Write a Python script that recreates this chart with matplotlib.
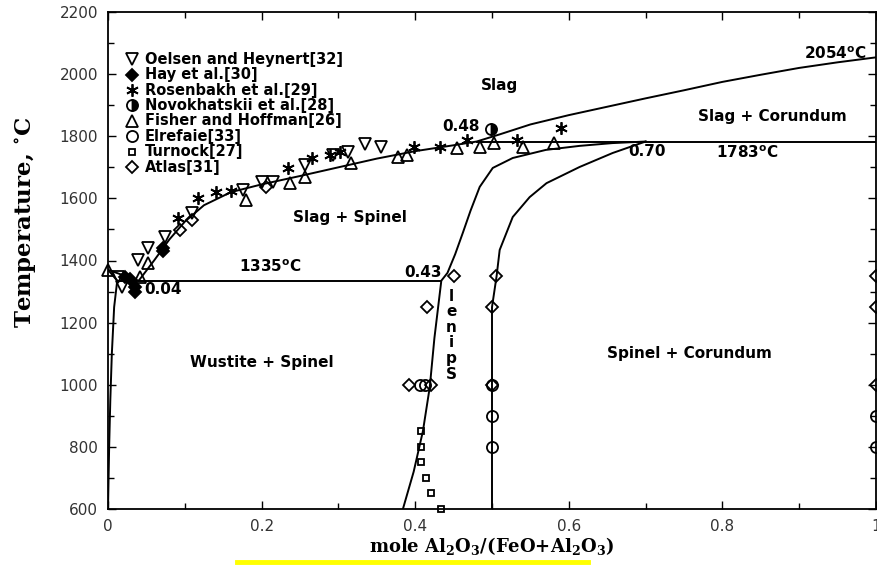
import matplotlib
matplotlib.use("Agg")
import matplotlib.pyplot as plt
from matplotlib.lines import Line2D
from matplotlib.ticker import MultipleLocator

plt.rcParams["mathtext.fontset"] = "custom"
plt.rcParams["mathtext.rm"] = "DejaVu Serif:bold"
plt.rcParams["mathtext.bf"] = "DejaVu Serif:bold"

# ---- phase boundaries (mole fraction Al2O3, temperature in C) ----
liquidus_x = [0.0, 0.04, 0.06, 0.08, 0.10, 0.125, 0.16, 0.20, 0.25, 0.30, 0.35, 0.40, 0.45, 0.48,
              0.51, 0.55, 0.60, 0.65, 0.70, 0.75, 0.80, 0.85, 0.90, 0.95, 1.0]
liquidus_T = [1370, 1335, 1400, 1468, 1525, 1578, 1620, 1645, 1672, 1700, 1728, 1752, 1771, 1783,
              1806, 1838, 1868, 1895, 1922, 1948, 1975, 1998, 2020, 2038, 2054]
wustite_solidus_x = [0.0, 0.012]
wustite_solidus_T = [1370, 1335]
wustite_solvus_x = [0.012, 0.008, 0.005, 0.003, 0.0015, 0.0]
wustite_solvus_T = [1335, 1250, 1100, 950, 800, 600]
eutectic_x = [0.012, 0.434]
eutectic_T = [1335, 1335]
peritectic_x = [0.48, 1.0]
peritectic_T = [1783, 1783]
spinel_fe_x = [0.384, 0.398, 0.41, 0.419, 0.425, 0.434, 0.442, 0.452, 0.462, 0.472, 0.484, 0.501,
               0.527, 0.57, 0.614, 0.657, 0.70]
spinel_fe_T = [600, 720, 850, 993, 1150, 1335, 1360, 1420, 1489, 1560, 1637, 1698,
               1730, 1756, 1769, 1778, 1783]
spinel_al_x = [0.5, 0.5, 0.503, 0.506, 0.51, 0.527, 0.549, 0.571, 0.614, 0.657, 0.679, 0.70]
spinel_al_T = [600, 1250, 1300, 1350, 1434, 1540, 1604, 1649, 1701, 1746, 1765, 1783]

# ---- experimental data ----
oelsen_x = [0.013, 0.018, 0.039, 0.052, 0.074, 0.11, 0.176, 0.2, 0.215, 0.256, 0.293, 0.312, 0.334, 0.356]
oelsen_T = [1347, 1315, 1402, 1440, 1476, 1553, 1627, 1653, 1653, 1707, 1740, 1750, 1775, 1766]
hay_x = [0.022, 0.029, 0.035, 0.035, 0.072, 0.072]
hay_T = [1347, 1340, 1315, 1298, 1440, 1430]
rosenbakh_x = [0.091, 0.117, 0.141, 0.16, 0.234, 0.265, 0.289, 0.302, 0.399, 0.432, 0.467, 0.532, 0.59]
rosenbakh_T = [1537, 1601, 1620, 1625, 1698, 1730, 1740, 1750, 1766, 1766, 1788, 1788, 1827]
novokhatskii_x = [0.499]
novokhatskii_T = [1823]
fisher_x = [0.0, 0.042, 0.052, 0.18, 0.237, 0.256, 0.317, 0.377, 0.389, 0.455, 0.484, 0.502, 0.541, 0.581]
fisher_T = [1369, 1347, 1392, 1595, 1649, 1669, 1713, 1733, 1740, 1762, 1766, 1778, 1766, 1778]
elrefaie_x = [0.406, 0.413, 0.5, 0.5, 0.5, 1.0, 1.0]
elrefaie_T = [1000, 1000, 1000, 900, 800, 900, 800]
turnock_x = [0.407, 0.407, 0.407, 0.414, 0.42, 0.433]
turnock_T = [850, 800, 750, 700, 650, 600]
atlas_x = [0.094, 0.11, 0.206, 0.45, 0.416, 0.392, 0.42, 0.505, 0.5, 0.5, 1.0, 1.0, 1.0]
atlas_T = [1498, 1530, 1637, 1350, 1250, 1000, 1000, 1350, 1250, 1000, 1350, 1250, 1000]

series = [
    ("Oelsen and Heynert[32]", oelsen_x, oelsen_T, dict(marker="v", ms=8, mfc="none")),
    ("Hay et al.[30]", hay_x, hay_T, dict(marker="D", ms=6.5, mfc="black")),
    ("Rosenbakh et al.[29]", rosenbakh_x, rosenbakh_T, dict(marker=(6, 2, 0), ms=9, mfc="none")),
    ("Novokhatskii et al.[28]", novokhatskii_x, novokhatskii_T,
     dict(marker="o", ms=8, fillstyle="right", mfc="black", mfcalt="white")),
    ("Fisher and Hoffman[26]", fisher_x, fisher_T, dict(marker="^", ms=8, mfc="none")),
    ("Elrefaie[33]", elrefaie_x, elrefaie_T, dict(marker="o", ms=8, mfc="none")),
    ("Turnock[27]", turnock_x, turnock_T, dict(marker="s", ms=4.5, mfc="none")),
    ("Atlas[31]", atlas_x, atlas_T, dict(marker="D", ms=6.5, mfc="none")),
]

fig = plt.figure(figsize=(8.77, 5.65), dpi=100)
ax = fig.add_axes([108 / 877, 1 - 509 / 565, 768 / 877, 497 / 565])

for xs, ts in [(liquidus_x, liquidus_T), (wustite_solidus_x, wustite_solidus_T),
               (wustite_solvus_x, wustite_solvus_T), (eutectic_x, eutectic_T),
               (peritectic_x, peritectic_T), (spinel_fe_x, spinel_fe_T), (spinel_al_x, spinel_al_T)]:
    ax.plot(xs, ts, color="black", lw=1.4, zorder=2)


def marker_style(style):
    kw = dict(style)
    if "mfcalt" in kw:
        kw["markerfacecoloralt"] = kw.pop("mfcalt")
    return kw


for label, xs, ts, style in series:
    ax.plot(xs, ts, ls="none", color="black", mec="black", mew=1.3, clip_on=False, zorder=3,
            **marker_style(style))

# legend rows
for i, (label, xs, ts, style) in enumerate(series):
    y = 0.905 - i * 0.031
    ax.plot([0.031], [y], transform=ax.transAxes, ls="none", color="black", mec="black",
            mew=1.3, clip_on=False, **marker_style(style))
    ax.text(0.048, y, label, transform=ax.transAxes, fontsize=10.5, fontweight="bold",
            va="center", ha="left")

# field labels
lab = dict(fontsize=11, fontweight="bold", ha="center", va="center")
ax.text(0.51, 1962, "Slag", **lab)
ax.text(0.865, 1865, "Slag + Corundum", **lab)
ax.text(0.947, 2066, "2054$^{\\mathregular{o}}$C", **lab)
ax.text(0.832, 1748, "1783$^{\\mathregular{o}}$C", **lab)
ax.text(0.702, 1750, "0.70", **lab)
ax.text(0.46, 1832, "0.48", **lab)
ax.text(0.315, 1537, "Slag + Spinel", **lab)
ax.text(0.211, 1379, "1335$^{\\mathregular{o}}$C", **lab)
ax.text(0.41, 1362, "0.43", **lab)
ax.text(0.072, 1308, "0.04", **lab)
ax.text(0.2, 1073, "Wustite + Spinel", **lab)
ax.text(0.757, 1102, "Spinel + Corundum", **lab)
ax.text(0.447, 1160, "l\ne\nn\ni\np\nS", fontsize=11, fontweight="bold", ha="center",
        va="center", linespacing=1.05)

ax.set_xlim(0, 1)
ax.set_ylim(600, 2200)
ax.xaxis.set_minor_locator(MultipleLocator(0.1))
ax.yaxis.set_major_locator(MultipleLocator(200))
ax.yaxis.set_minor_locator(MultipleLocator(100))
ax.set_xticks([0, 0.2, 0.4, 0.6, 0.8, 1.0])
ax.set_xticklabels(["0", "0.2", "0.4", "0.6", "0.8", "1"])
ax.tick_params(which="both", direction="in", top=True, right=True, width=1,
               labelsize=11, labelcolor="#333333")
ax.tick_params(which="major", length=6, pad=7)
ax.tick_params(which="minor", length=4)
for s in ax.spines.values():
    s.set_linewidth(1.3)

ax.set_xlabel("mole Al$_2$O$_3$/(FeO+Al$_2$O$_3$)", family="DejaVu Serif",
              fontweight="bold", fontsize=13, labelpad=1)
ax.set_ylabel("Temperature, $^{\\circ}$C", family="DejaVu Serif", fontweight="bold",
              fontsize=16.5)
ax.yaxis.set_label_coords(-0.09, 0.577)

fig.add_artist(Line2D([237 / 877, 588 / 877], [3.5 / 565, 3.5 / 565], color="#ffff00", lw=3.5))

fig.savefig("out.png", dpi=100)
